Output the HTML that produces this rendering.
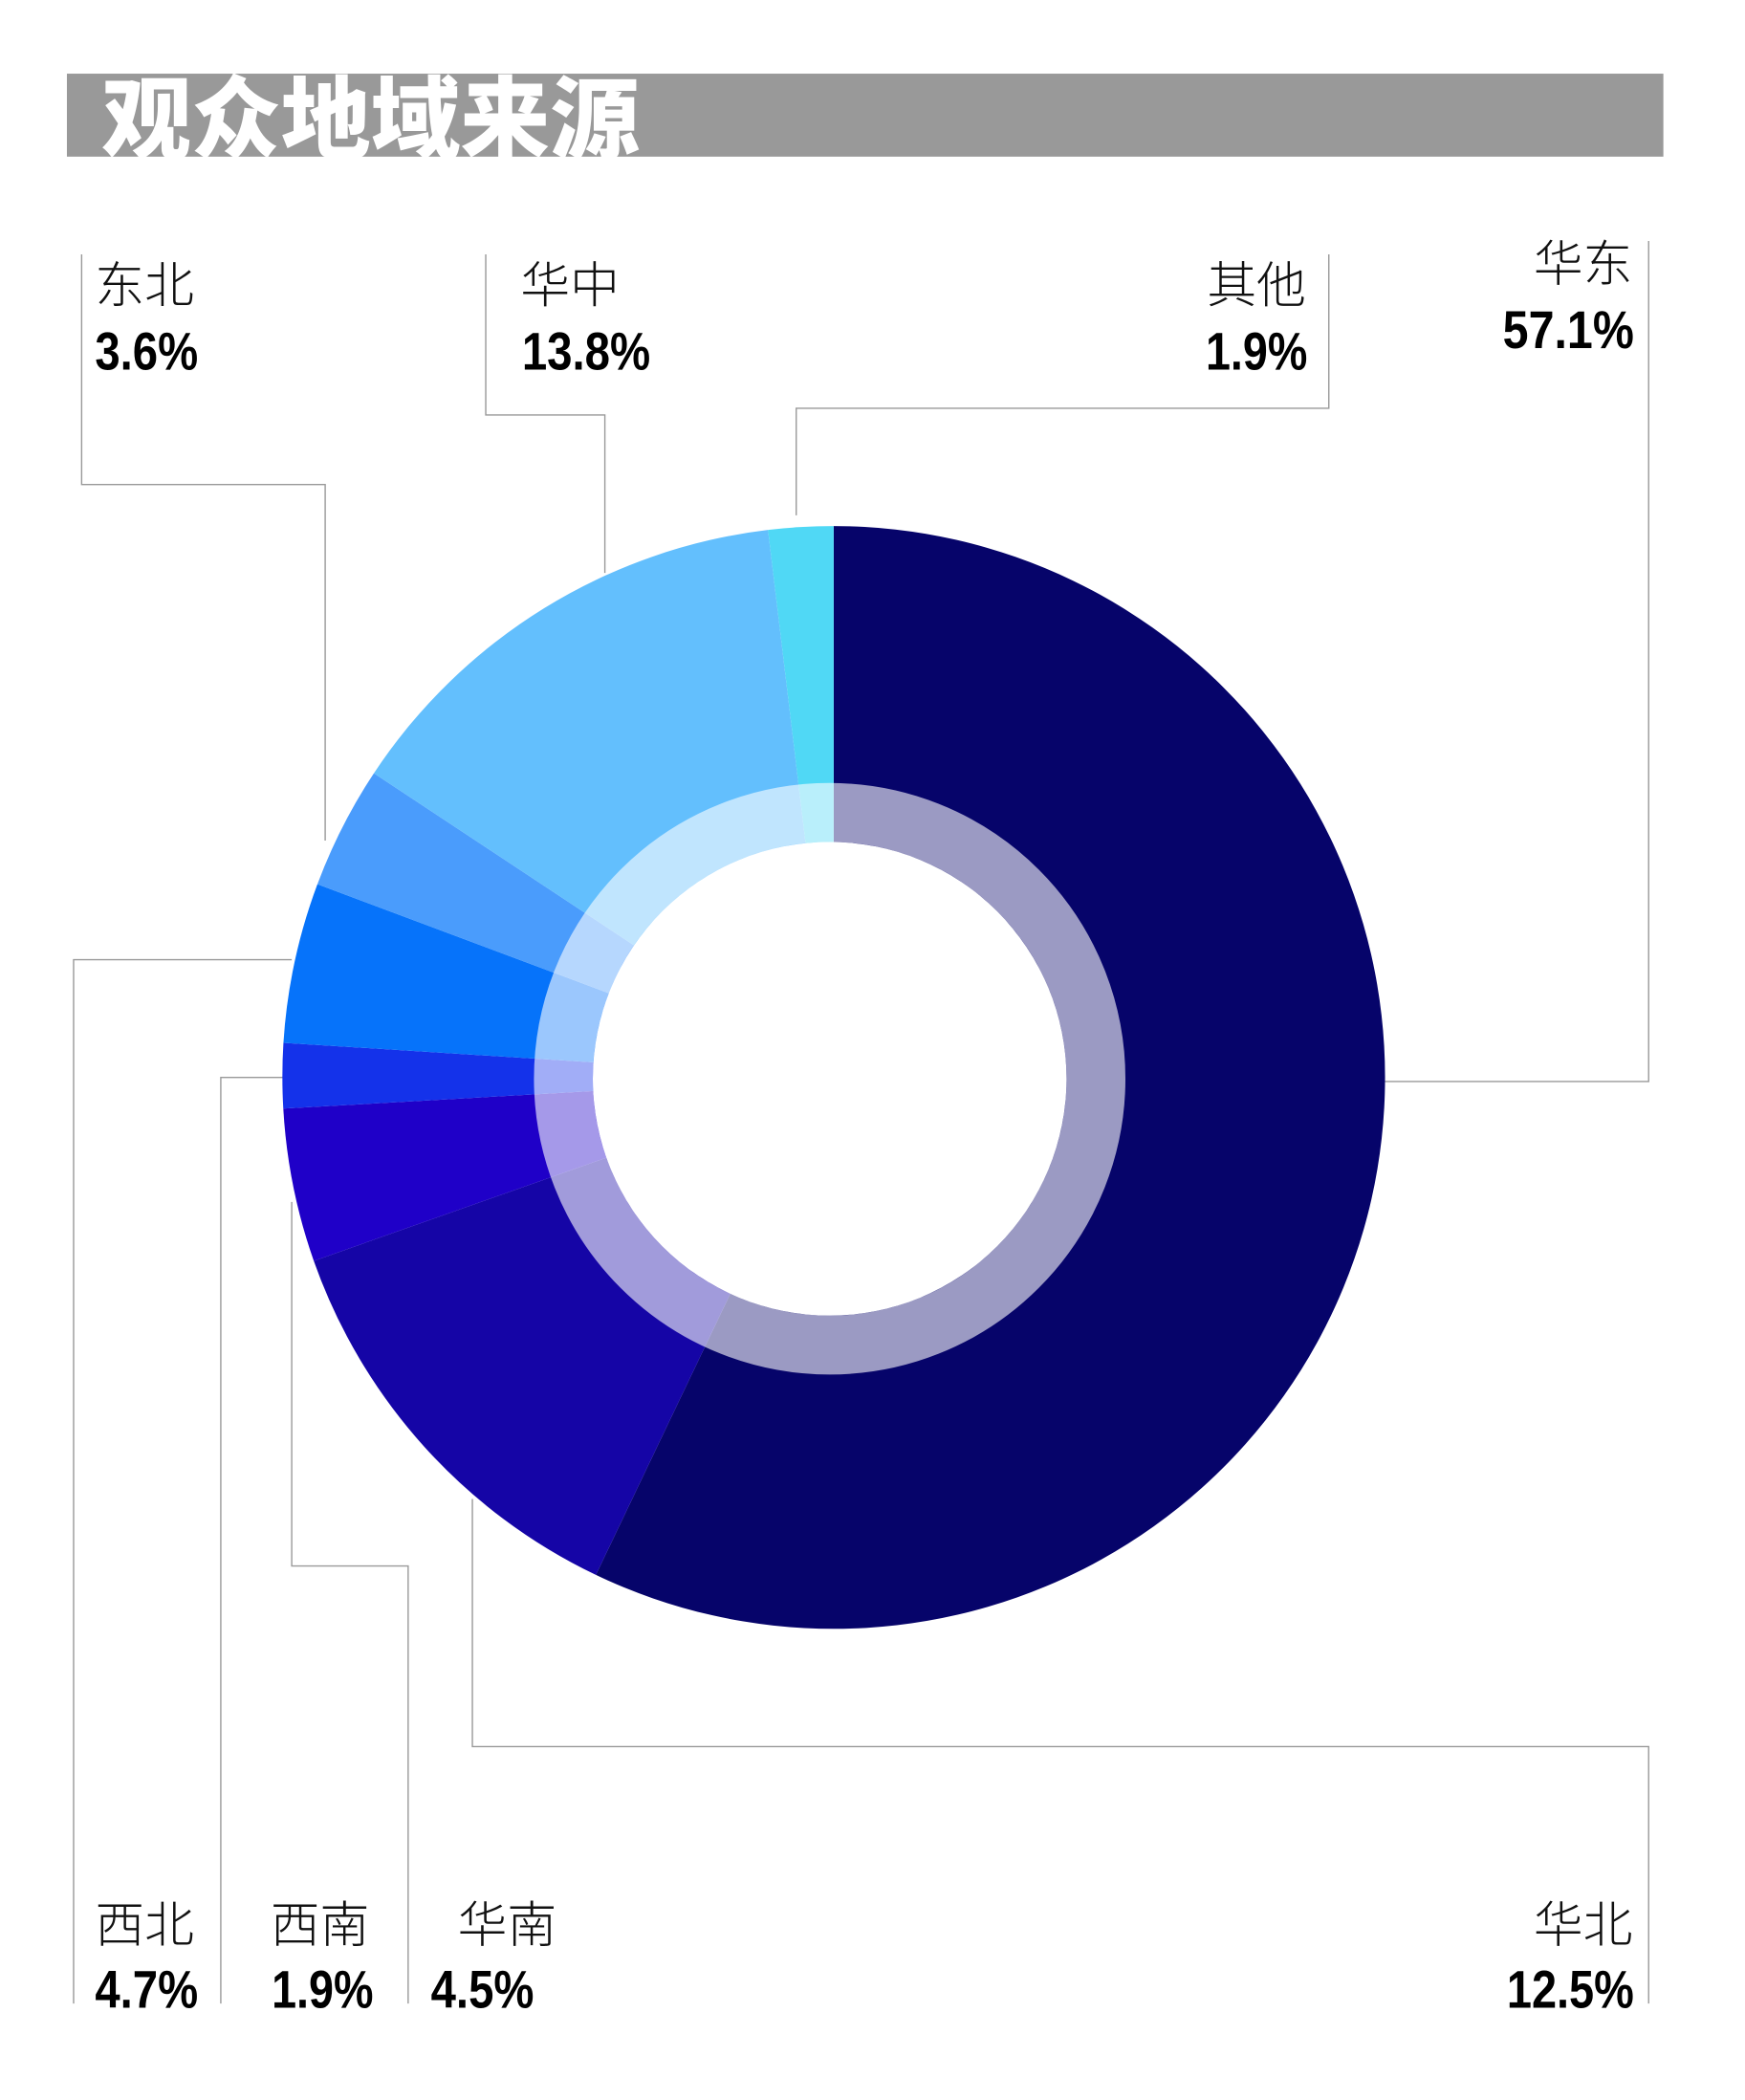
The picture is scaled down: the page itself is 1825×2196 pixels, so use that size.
<!DOCTYPE html>
<html><head><meta charset="utf-8"><style>
html,body{margin:0;padding:0;background:#fff;}
svg{display:block;}
.n{font-family:"Liberation Sans","Noto Sans CJK SC",sans-serif;font-size:37px;fill:#111;font-weight:300;}
.p{font-family:"Liberation Sans",sans-serif;font-size:40px;font-weight:bold;fill:#000;}
.l{fill:none;stroke:#999;stroke-width:1;}
</style></head><body>
<svg width="1825" height="2196" viewBox="0 0 1304 1569" xmlns="http://www.w3.org/2000/svg">
<rect x="0" y="0" width="1304" height="1569" fill="#fff"/>
<rect x="50" y="55" width="1193" height="62" fill="#999"/>
<text x="76" y="113" font-family="'Liberation Sans','Noto Sans CJK SC',sans-serif" font-size="67" font-weight="900" fill="#fff">观众地域来源</text>

<polyline class="l" points="61,190 61,362 243,362 243,628"/>
<polyline class="l" points="363,190 363,310 452,310 452,428"/>
<polyline class="l" points="993,190 993,305 595,305 595,385"/>
<polyline class="l" points="1232,180 1232,808 1035,808"/>
<polyline class="l" points="218,717 55,717 55,1497"/>
<polyline class="l" points="212,805 165,805 165,1497"/>
<polyline class="l" points="218,898 218,1170 305,1170 305,1497"/>
<polyline class="l" points="353,1120 353,1305 1232,1305 1232,1497"/>

<g>
<path d="M623,805 L623,393 A412,412 0 1 1 445.3,1176.7 Z" fill="#06046a"/>
<path d="M623,805 L445.3,1176.7 A412,412 0 0 1 234.5,942.1 Z" fill="#1505a6"/>
<path d="M623,805 L234.5,942.1 A412,412 0 0 1 211.7,828.3 Z" fill="#1f00c8"/>
<path d="M623,805 L211.7,828.3 A412,412 0 0 1 211.8,779.1 Z" fill="#1432ea"/>
<path d="M623,805 L211.8,779.1 A412,412 0 0 1 237.2,660.6 Z" fill="#0673fa"/>
<path d="M623,805 L237.2,660.6 A412,412 0 0 1 279.4,577.7 Z" fill="#4a9cfc"/>
<path d="M623,805 L279.4,577.7 A412,412 0 0 1 573.9,395.9 Z" fill="#63bffd"/>
<path d="M623,805 L573.9,395.9 A412,412 0 0 1 623,393 Z" fill="#50d8f5"/>
<circle cx="620" cy="806" r="199" fill="none" stroke="#fff" stroke-opacity="0.6" stroke-width="44"/>
<circle cx="620" cy="806" r="177" fill="#fff"/>
</g>

<text class="n" x="71" y="226">东北</text>
<text class="p" x="71" y="276" textLength="77" lengthAdjust="spacingAndGlyphs">3.6%</text>
<text class="n" x="389" y="226">华中</text>
<text class="p" x="390" y="276" textLength="96" lengthAdjust="spacingAndGlyphs">13.8%</text>
<text class="n" x="976" y="226" text-anchor="end">其他</text>
<text class="p" x="901" y="276" textLength="76" lengthAdjust="spacingAndGlyphs">1.9%</text>
<text class="n" x="1220" y="210" text-anchor="end">华东</text>
<text class="p" x="1123" y="260" textLength="98" lengthAdjust="spacingAndGlyphs">57.1%</text>

<text class="n" x="71" y="1451">西北</text>
<text class="p" x="71" y="1500" textLength="77" lengthAdjust="spacingAndGlyphs">4.7%</text>
<text class="n" x="202" y="1451">西南</text>
<text class="p" x="203" y="1500" textLength="76" lengthAdjust="spacingAndGlyphs">1.9%</text>
<text class="n" x="342" y="1451">华南</text>
<text class="p" x="322" y="1500" textLength="77" lengthAdjust="spacingAndGlyphs">4.5%</text>
<text class="n" x="1220" y="1451" text-anchor="end">华北</text>
<text class="p" x="1126" y="1500" textLength="95" lengthAdjust="spacingAndGlyphs">12.5%</text>
</svg>
</body></html>
